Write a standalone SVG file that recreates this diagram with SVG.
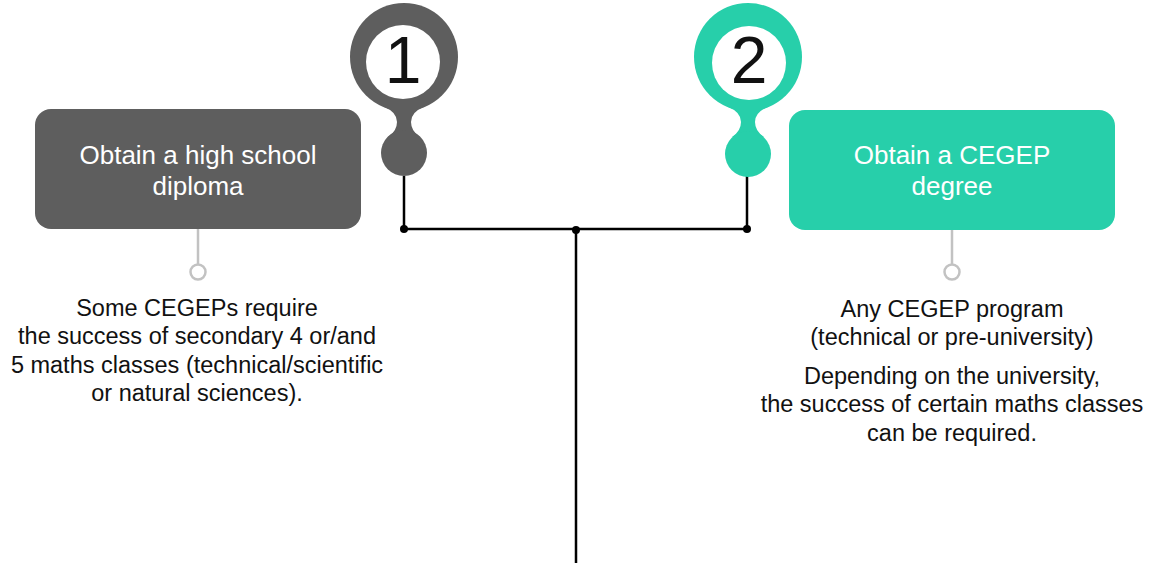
<svg xmlns="http://www.w3.org/2000/svg" width="1149" height="563" viewBox="0 0 1149 563">
<style>
.grey{fill:#5e5e5e}
.teal{fill:#27cfaa}
.head{font-family:"Liberation Sans",Arial,sans-serif;font-size:26px;fill:#ffffff;text-anchor:middle}
.body{font-family:"Liberation Sans",Arial,sans-serif;font-size:23.5px;fill:#111111;text-anchor:middle}
.num{font-family:"Liberation Sans",Arial,sans-serif;font-size:66px;fill:#111111;text-anchor:middle}
.conn{stroke:#000;stroke-width:2.5;fill:none}
.stem{stroke:#c2c2c2;stroke-width:2.5;fill:#fff}
</style>
<rect width="1149" height="563" fill="#fff"/>
<g id="connectors">
<path class="conn" d="M404,176 V229 H747 V176"/>
<path class="conn" d="M576,229 V563"/>
<circle cx="404" cy="229" r="4" fill="#000"/>
<circle cx="747" cy="229" r="4" fill="#000"/>
<circle cx="576" cy="230" r="4" fill="#000"/>
<line class="stem" x1="198" y1="229" x2="198" y2="265"/>
<circle class="stem" cx="198" cy="272" r="7.5"/>
<line class="stem" x1="952" y1="230" x2="952" y2="265"/>
<circle class="stem" cx="952" cy="272" r="7.5"/>
</g>
<g id="pin1" class="grey">
<circle cx="404" cy="57" r="54"/>
<path d="M384,107 Q397,112 397,122 Q397,131 388,137 L420,137 Q411,131 411,122 Q411,112 424,107 Z"/>
<circle cx="404" cy="153" r="23"/>
<circle cx="403" cy="62" r="37" fill="#fff"/>
<text class="num" x="403" y="83">1</text>
</g>
<g id="pin2" class="teal">
<circle cx="748" cy="57" r="54"/>
<path d="M728,107 Q741,112 741,122 Q741,131 732,137 L764,137 Q755,131 755,122 Q755,112 768,107 Z"/>
<circle cx="748" cy="154" r="23"/>
<circle cx="749" cy="63" r="37" fill="#fff"/>
<text class="num" x="749" y="83">2</text>
</g>
<g id="box1">
<rect class="grey" x="35" y="109" width="326" height="120" rx="16"/>
<text class="head" x="198" y="164">Obtain a high school</text>
<text class="head" x="198" y="195">diploma</text>
</g>
<g id="box2">
<rect class="teal" x="789" y="110" width="326" height="120" rx="16"/>
<text class="head" x="952" y="164">Obtain a CEGEP</text>
<text class="head" x="952" y="195">degree</text>
</g>
<g id="note1">
<text class="body" x="197" y="316">Some CEGEPs require</text>
<text class="body" x="197" y="344">the success of secondary 4 or/and</text>
<text class="body" x="197" y="373">5 maths classes (technical/scientific</text>
<text class="body" x="197" y="401">or natural sciences).</text>
</g>
<g id="note2">
<text class="body" x="952" y="317">Any CEGEP program</text>
<text class="body" x="952" y="345">(technical or pre-university)</text>
<text class="body" x="952" y="384">Depending on the university,</text>
<text class="body" x="952" y="412">the success of certain maths classes</text>
<text class="body" x="952" y="441">can be required.</text>
</g>
</svg>
